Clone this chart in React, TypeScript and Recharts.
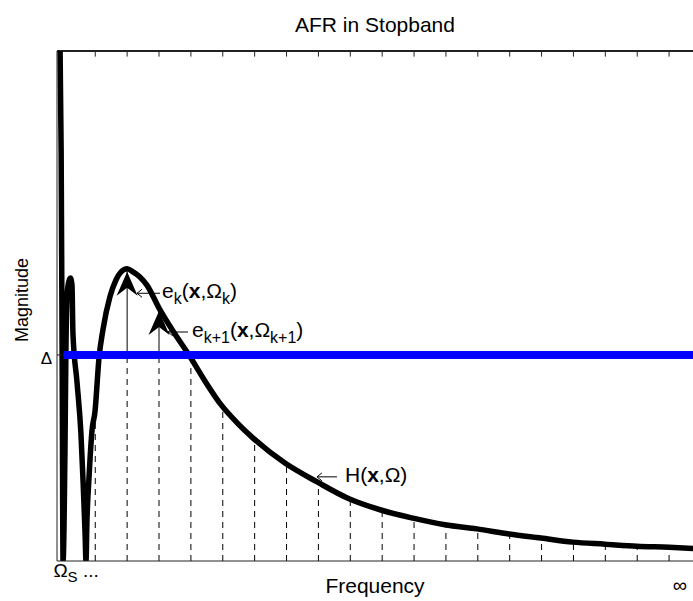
import {
  ComposedChart,
  Line,
  Scatter,
  XAxis,
  YAxis,
  ReferenceLine,
} from "recharts";

const FONT = '"Liberation Sans", Arial, Helvetica, sans-serif';

// frequency in units of the sampling grid (0 = Omega_S), magnitude relative
const curveX = [
  -0.11, -0.07, -0.04, -0.01, 0.05, 0.08, 0.11, 0.16, 0.22, 0.27, 0.3, 0.43,
  0.55, 0.62, 0.68, 0.71, 0.74, 0.8, 0.9, 0.99, 1.12, 1.24, 1.46, 1.65, 1.81,
  2.0, 2.18, 2.4, 2.62, 3.0, 3.5, 3.94, 4.44, 4.95, 5.45, 5.95, 6.95, 7.96,
  8.96, 9.96, 10.97, 11.97, 12.97, 13.98, 14.98, 15.98, 16.99, 17.99, 19.0,
  19.97,
];
const curveY = [
  1.04, 0.806, 0.414, 0, 0.218, 0.414, 0.512, 0.545, 0.555, 0.541, 0.447,
  0.349, 0.251, 0.153, 0.055, 0, 0.08, 0.159, 0.257, 0.292, 0.4, 0.453, 0.518,
  0.551, 0.567, 0.573, 0.567, 0.557, 0.541, 0.496, 0.445, 0.404, 0.353, 0.306,
  0.271, 0.241, 0.192, 0.155, 0.122, 0.1, 0.084, 0.071, 0.063, 0.053, 0.045,
  0.037, 0.033, 0.029, 0.027, 0.024,
];

// stopband limit
const delta = 0.404;

// sampled frequencies Omega_k and the magnitude at each
const gridX = [1, 2, 3, 4, 5, 6, 7, 8, 9, 10, 11, 12, 13, 14, 15, 16, 17, 18, 19];
const gridY = [
  0.29, 0.573, 0.496, 0.398, 0.306, 0.24, 0.192, 0.155, 0.122, 0.1, 0.084,
  0.071, 0.063, 0.053, 0.045, 0.037, 0.033, 0.029, 0.027,
];

// axis ends
const xTicks = [0, 19.75];
const xDomain = [-0.2, 19.75];
const yTop = 1;
const tickLen = 0.011;

// annotation arrow tips
const noteX = [2.31, 3.28, 7.955];
const noteY = [0.525, 0.449, 0.165];

const curve = curveX.map((x, i) => ({ x, y: curveY[i] }));
const peaks = gridX
  .map((x, i) => ({ x, y: gridY[i] }))
  .filter((p) => p.y > delta);

function FreqTick(props: any) {
  const { x, y, payload } = props;
  if (payload.value === 0) {
    return (
      <text x={x - 10} y={y + 16} fontSize={19} fontFamily={FONT} fill="#000">
        Ω
        <tspan fontSize={15} dy={5}>
          S
        </tspan>
        <tspan dy={-5}> ...</tspan>
      </text>
    );
  }
  return (
    <text
      x={x - 6}
      y={y + 31}
      textAnchor="end"
      fontSize={20}
      fontFamily={FONT}
      fill="#000"
    >
      ∞
    </text>
  );
}

function DeltaTick(props: any) {
  const { x, y } = props;
  return (
    <g>
      <line x1={x} y1={y} x2={x + 5} y2={y} stroke="#222" />
      <text
        x={x - 5}
        y={y + 9}
        textAnchor="end"
        fontSize={17}
        fontFamily={FONT}
        fill="#000"
      >
        Δ
      </text>
    </g>
  );
}

function MagLabel(props: any) {
  const vb = props.viewBox;
  const cx = vb.x + 28;
  const cy = vb.y + vb.height / 2 - 6;
  return (
    <text
      x={cx}
      y={cy}
      transform={`rotate(-90, ${cx}, ${cy})`}
      textAnchor="middle"
      fontSize={18}
      fontFamily={FONT}
      fill="#000"
    >
      Magnitude
    </text>
  );
}

function ArrowHead(props: any) {
  const { cx, cy } = props;
  const t = cy + 3;
  return (
    <path
      d={`M${cx},${t} L${cx + 10.5},${t + 24} L${cx},${t + 16} L${cx - 10.5},${t + 24} Z`}
      fill="#000"
    />
  );
}

function NoteText({ i }: { i: number }) {
  if (i === 0)
    return (
      <>
        e<tspan fontSize={16} dy={6}>k</tspan>
        <tspan dy={-6}>(</tspan>
        <tspan fontWeight="bold">x</tspan>,Ω
        <tspan fontSize={16} dy={6}>k</tspan>
        <tspan dy={-6}>)</tspan>
      </>
    );
  if (i === 1)
    return (
      <>
        e<tspan fontSize={16} dy={6}>k+1</tspan>
        <tspan dy={-6}>(</tspan>
        <tspan fontWeight="bold">x</tspan>,Ω
        <tspan fontSize={16} dy={6}>k+1</tspan>
        <tspan dy={-6}>)</tspan>
      </>
    );
  return (
    <>
      H(<tspan fontWeight="bold">x</tspan>,Ω)
    </>
  );
}

const noteLen = [23, 20, 20];
const noteGap = [25, 24, 28];
const noteBase = [5, 5, 5];

function Note(props: any) {
  const { cx, cy, payload } = props;
  const i = payload.i;
  return (
    <g>
      <line x1={cx} y1={cy} x2={cx + noteLen[i]} y2={cy} stroke="#000" />
      <path
        d={`M${cx + 5},${cy - 4} L${cx},${cy} L${cx + 5},${cy + 4}`}
        fill="none"
        stroke="#000"
      />
      <text
        x={cx + noteGap[i]}
        y={cy + noteBase[i]}
        fontSize={21}
        fontFamily={FONT}
        fill="#000"
      >
        <NoteText i={i} />
      </text>
    </g>
  );
}

export default function App() {
  return (
    <div
      style={{
        position: "absolute",
        left: 0,
        top: 0,
        width: 693,
        height: 601,
        overflow: "hidden",
        background: "#fff",
      }}
    >
      <div
        style={{
          position: "absolute",
          left: 57,
          width: 636,
          top: 13,
          lineHeight: "24px",
          fontSize: 21,
          fontFamily: FONT,
          textAlign: "center",
          color: "#000",
        }}
      >
        AFR in Stopband
      </div>
      <ComposedChart
        width={693}
        height={601}
        margin={{ top: 51, right: 0, left: 0, bottom: 0 }}
      >
        <XAxis
          type="number"
          dataKey="x"
          domain={xDomain}
          allowDataOverflow
          ticks={xTicks}
          interval={0}
          height={40}
          tickSize={0}
          tickMargin={0}
          tickLine={false}
          tick={<FreqTick />}
          axisLine={{ stroke: "#222" }}
          label={{
            value: "Frequency",
            position: "insideBottom",
            offset: 8,
            fontSize: 21,
            fontFamily: FONT,
            fill: "#000",
          }}
        />
        <YAxis
          type="number"
          dataKey="y"
          domain={[0, yTop]}
          allowDataOverflow
          ticks={[delta]}
          width={57}
          tickSize={0}
          tickMargin={0}
          tickLine={false}
          tick={<DeltaTick />}
          axisLine={{ stroke: "#222" }}
          label={MagLabel}
        />

        {/* box top and its inward ticks */}
        <ReferenceLine y={yTop} stroke="#222" strokeWidth={2} />
        {gridX.map((x) => (
          <ReferenceLine
            key={"t" + x}
            segment={[
              { x, y: yTop },
              { x, y: yTop - tickLen },
            ]}
            stroke="#222"
            strokeWidth={1}
          />
        ))}

        {gridX.map((x, i) => (
          <ReferenceLine
            key={"d" + x}
            segment={[
              { x, y: 0 },
              { x, y: Math.min(gridY[i], delta) },
            ]}
            stroke="#000"
            strokeWidth={1}
            strokeDasharray="6 5"
          />
        ))}
        {peaks.map((p) => (
          <ReferenceLine
            key={"s" + p.x}
            segment={[
              { x: p.x, y: delta },
              { x: p.x, y: p.y },
            ]}
            stroke="#000"
            strokeWidth={1}
          />
        ))}

        <Line
          data={curve}
          dataKey="y"
          type="monotoneX"
          stroke="#000"
          strokeWidth={5.5}
          strokeLinejoin="round"
          dot={false}
          isAnimationActive={false}
        />

        <ReferenceLine
          segment={[
            { x: 0, y: delta },
            { x: xDomain[1], y: delta },
          ]}
          stroke="#0000ff"
          strokeWidth={8}
        />

        <Scatter
          data={peaks}
          dataKey="y"
          shape={<ArrowHead />}
          isAnimationActive={false}
        />
        <Scatter
          data={noteX.map((x, i) => ({ x, y: noteY[i], i }))}
          dataKey="y"
          shape={<Note />}
          isAnimationActive={false}
        />
      </ComposedChart>
    </div>
  );
}
